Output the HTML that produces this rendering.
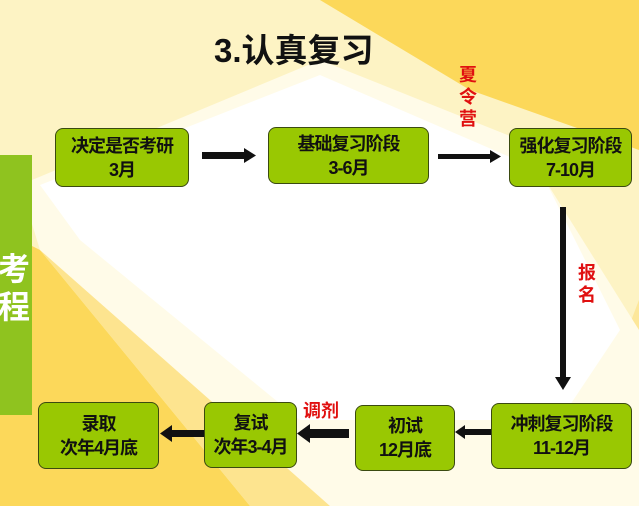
<!DOCTYPE html>
<html><head><meta charset="utf-8"><style>
body{margin:0;width:639px;height:506px;overflow:hidden;position:relative;font-family:"Liberation Sans","Noto Sans CJK SC",sans-serif;background:#fdf3c4}
svg{position:absolute;left:0;top:0}
.b{position:absolute;background:#99c802;border:1.5px solid #3a4a10;border-radius:8px;box-sizing:border-box;display:flex;flex-direction:column;justify-content:center;align-items:center;font-weight:bold;font-size:18px;line-height:24px;color:#111;text-align:center;letter-spacing:-1px}
.r{position:absolute;color:#e01010;font-weight:bold;font-size:18px;line-height:22px}
</style></head><body>
<svg width="639" height="506">
<polygon points="320,0 639,0 639,150 470,90" fill="#fcd85a"/>
<polygon points="639,300 639,506 560,506" fill="#fde79a"/>
<polygon points="0,230 0,506 250,506 40,250" fill="#fcd85a"/>
<polygon points="40,250 250,506 330,506 60,240" fill="#fde48f"/>
<polygon points="20,185 320,60 520,140 639,330 639,506 330,506 40,250" fill="#fffbe8"/>
<polygon points="40,185 320,75 540,170 620,330 560,420 300,420 80,240" fill="#ffffff"/>
<rect x="0" y="155" width="32" height="260" fill="#8fc31f"/>
<text x="-2" y="280" font-size="32" font-weight="bold" fill="#fff" font-family="Noto Sans CJK SC">考</text>
<text x="-2" y="318" font-size="32" font-weight="bold" fill="#fff" font-family="Noto Sans CJK SC">程</text>
<g fill="#111">
<rect x="202" y="152" width="44" height="7"/><polygon points="244,148 256,155.5 244,163"/>
<rect x="438" y="154" width="54" height="5"/><polygon points="490,150 501,156.5 490,163"/>
<rect x="560" y="207" width="6" height="172"/><polygon points="555,377 571,377 563,390"/>
<rect x="463" y="429" width="28" height="6"/><polygon points="465,425 455,432 465,439"/>
<rect x="310" y="429" width="39" height="9"/><polygon points="310,424 297,433.5 310,443"/>
<rect x="172" y="430" width="32" height="7"/><polygon points="172,425 160,433.5 172,442"/>
</g>
</svg>
<div style="position:absolute;left:214px;top:24px;font-size:33px;font-weight:bold;color:#111">3.认真复习</div>
<div class="b" style="left:55px;top:128px;width:134px;height:59px">决定是否考研<br>3月</div>
<div class="b" style="left:268px;top:127px;width:161px;height:57px">基础复习阶段<br>3-6月</div>
<div class="b" style="left:509px;top:128px;width:123px;height:59px">强化复习阶段<br>7-10月</div>
<div class="b" style="left:491px;top:403px;width:141px;height:66px">冲刺复习阶段<br>11-12月</div>
<div class="b" style="left:355px;top:405px;width:100px;height:66px">初试<br>12月底</div>
<div class="b" style="left:204px;top:402px;width:93px;height:66px">复试<br>次年3-4月</div>
<div class="b" style="left:38px;top:402px;width:121px;height:67px">录取<br>次年4月底</div>
<div class="r" style="left:459px;top:64px;width:18px">夏令营</div>
<div class="r" style="left:578px;top:262px;width:18px">报名</div>
<div class="r" style="left:303px;top:400px">调剂</div>
</body></html>
